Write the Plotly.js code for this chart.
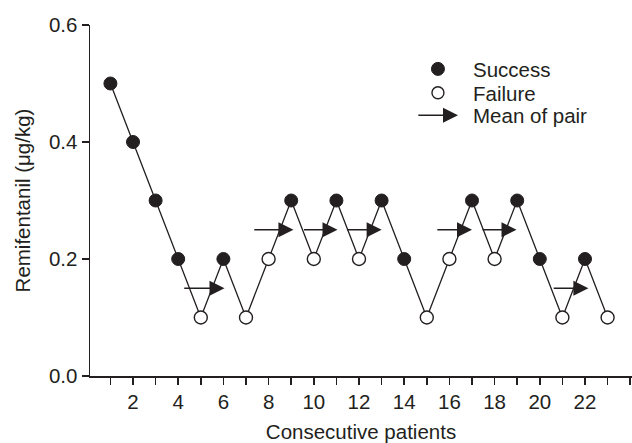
<!DOCTYPE html>
<html>
<head>
<meta charset="utf-8">
<script src="https://cdn.plot.ly/plotly-3.0.1.min.js"></script>
<style>html,body{margin:0;padding:0;background:#fff;}#chart{width:632px;height:443px;}</style>
</head>
<body>
<div id="chart"></div>
<script>
// Data
const patients = [1,2,3,4,5,6,7,8,9,10,11,12,13,14,15,16,17,18,19,20,21,22,23];
const doses    = [0.5,0.4,0.3,0.2,0.1,0.2,0.1,0.2,0.3,0.2,0.3,0.2,0.3,0.2,0.1,0.2,0.3,0.2,0.3,0.2,0.1,0.2,0.1];
const outcome  = ['S','S','S','S','F','S','F','F','S','F','S','F','S','S','F','F','S','F','S','S','F','S','F'];
// Mean-of-pair arrows: tail x, tip x, level
const arrowStart = [4.2, 7.3, 9.5, 11.4, 15.4, 17.4, 20.55];
const arrowEnd   = [6.05, 9.1, 11.05, 13.0, 17.0, 18.97, 22.15];
const arrowLevel = [0.15, 0.25, 0.25, 0.25, 0.25, 0.25, 0.15];
const xTickVals = [1,2,3,4,5,6,7,8,9,10,11,12,13,14,15,16,17,18,19,20,21,22,23,24];
const xTickText = ['','2','','4','','6','','8','','10','','12','','14','','16','','18','','20','','22','',''];
const yTickVals = [0, 0.2, 0.4, 0.6];
const yTickText = ['0.0','0.2','0.4','0.6'];
const legendLabels = ['Success','Failure','Mean of pair'];

const ink = '#231f20';
const FONT = 'Liberation Sans, Arial, Helvetica, sans-serif';
const FS = 20.5;

const sx = [], sy = [], fx = [], fy = [];
patients.forEach((p,i) => {
  if (outcome[i] === 'S') { sx.push(p); sy.push(doses[i]); }
  else { fx.push(p); fy.push(doses[i]); }
});

const traces = [
  {x: patients, y: doses, mode: 'lines', line: {color: ink, width: 1.3}, showlegend: false, hoverinfo: 'skip'},
  {x: sx, y: sy, mode: 'markers', marker: {symbol: 'circle', size: 13, color: ink, line: {color: ink, width: 1}}, showlegend: false},
  {x: fx, y: fy, mode: 'markers', marker: {symbol: 'circle', size: 13, color: '#ffffff', line: {color: ink, width: 1.4}}, showlegend: false},
  // legend symbols on overlay axes
  {x: [0.642], y: [0.875], xaxis: 'x2', yaxis: 'y2', mode: 'markers',
   marker: {symbol: 'circle', size: 13, color: ink, line: {color: ink, width: 1}}, showlegend: false, hoverinfo: 'skip'},
  {x: [0.642], y: [0.807], xaxis: 'x2', yaxis: 'y2', mode: 'markers',
   marker: {symbol: 'circle', size: 12, color: '#ffffff', line: {color: ink, width: 1.4}}, showlegend: false, hoverinfo: 'skip'}
];

const annotations = [];
arrowStart.forEach((xs, i) => {
  annotations.push({
    x: arrowEnd[i], y: arrowLevel[i], ax: xs, ay: arrowLevel[i],
    xref: 'x', yref: 'y', axref: 'x', ayref: 'y',
    text: '', showarrow: true, arrowhead: 2, arrowsize: 2.0, arrowwidth: 1.5, arrowcolor: ink, standoff: 0
  });
});
// legend arrow
annotations.push({
  x: 0.679, y: 0.743, ax: 0.603, ay: 0.743,
  xref: 'x2', yref: 'y2', axref: 'x2', ayref: 'y2',
  text: '', showarrow: true, arrowhead: 2, arrowsize: 2.0, arrowwidth: 1.5, arrowcolor: ink, standoff: 0
});
const legY = [0.872, 0.805, 0.741];
legendLabels.forEach((t, i) => {
  annotations.push({
    x: 0.703, y: legY[i], xref: 'x2', yref: 'y2', text: t, showarrow: false,
    xanchor: 'left', yanchor: 'middle', font: {family: FONT, size: FS, color: ink}
  });
});

const layout = {
  width: 632, height: 443,
  margin: {l: 90, r: 0, t: 25, b: 67},
  paper_bgcolor: '#fff', plot_bgcolor: '#fff',
  showlegend: false,
  font: {family: FONT, size: FS, color: ink},
  xaxis: {
    range: [0.097, 24.08], showgrid: false, zeroline: false,
    showline: true, linecolor: ink, linewidth: 1.5,
    ticks: 'outside', ticklen: 7, tickwidth: 1.5, tickcolor: ink,
    tickmode: 'array', tickvals: xTickVals, ticktext: xTickText,
    tickfont: {family: FONT, size: FS, color: ink},
    title: {text: 'Consecutive patients', font: {family: FONT, size: FS, color: ink}, standoff: 13}
  },
  yaxis: {
    range: [0, 0.6], showgrid: false, zeroline: false,
    showline: true, linecolor: ink, linewidth: 1.5,
    ticks: 'outside', ticklen: 7, tickwidth: 1.5, tickcolor: ink,
    tickmode: 'array', tickvals: yTickVals, ticktext: yTickText,
    tickfont: {family: FONT, size: FS, color: ink},
    title: {text: 'Remifentanil (μg/kg)', font: {family: FONT, size: FS, color: ink}, standoff: 12}
  },
  xaxis2: {overlaying: 'x', range: [0, 1], visible: false, fixedrange: true},
  yaxis2: {overlaying: 'y', range: [0, 1], visible: false, fixedrange: true},
  annotations: annotations
};

Plotly.newPlot('chart', traces, layout, {displayModeBar: false, staticPlot: true});
</script>
</body>
</html>
